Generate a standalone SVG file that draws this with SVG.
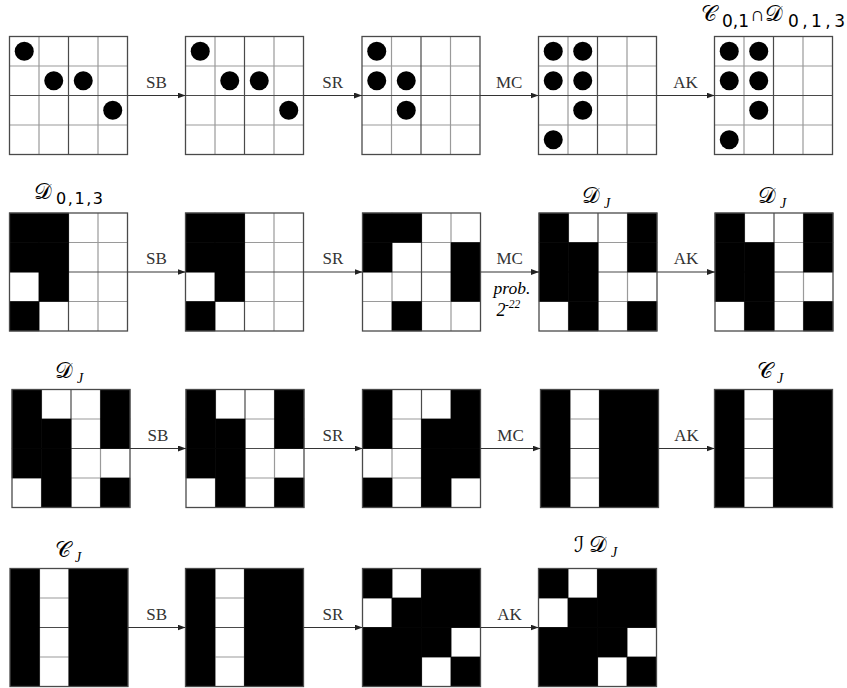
<svg xmlns="http://www.w3.org/2000/svg" xmlns:xlink="http://www.w3.org/1999/xlink" width="847" height="688" viewBox="0 0 847 688">
<style>
.bg{fill:#fff}
.ql{stroke:#9a9a9a;stroke-width:1.2;fill:none}
.ml{stroke:#4a4a4a;stroke-width:1.2;fill:none}
.bd{fill:none;stroke:#4a4a4a;stroke-width:1.3}
.ar{stroke:#333;stroke-width:1.1;fill:none;marker-end:url(#ah)}
.op{font-family:"Liberation Serif",serif;font-size:17px;fill:#333;text-anchor:middle}
.sc{font-family:"DejaVu Serif","DejaVu Sans","Noto Sans",serif;font-size:22px;fill:#000}
.sub{font-family:"DejaVu Sans","Liberation Sans",sans-serif;fill:#000}
.it{font-family:"Liberation Serif",serif;font-style:italic;fill:#000}
</style>
<defs>
<g id="base"><rect class="bg" width="118" height="118"/><path class="ql" d="M29.5 0V118M88.5 0V118M0 29.5H118M0 88.5H118"/><path class="ml" d="M59 0V118M0 59H118"/></g>
<rect id="c" x="-0.25" y="-0.25" width="30" height="30" fill="#000"/>
<circle id="d" cx="14.75" cy="14.75" r="9.5" fill="#000"/>
<rect id="bdr" class="bd" width="118" height="118"/>
<g id="cols"><rect x="0" y="0" width="29.75" height="118" fill="#000"/><rect x="58.75" y="0" width="59.25" height="118" fill="#000"/></g>
<marker id="ah" markerWidth="9" markerHeight="7" refX="8" refY="3" orient="auto" markerUnits="userSpaceOnUse"><path d="M0 0L8 3L0 6z" fill="#222"/></marker>
</defs>

<!-- Row 1 -->
<g id="r1g1" transform="translate(9.5,36.5)"><use href="#base"/><use href="#d" x="0" y="0"/><use href="#d" x="29.5" y="29.5"/><use href="#d" x="59" y="29.5"/><use href="#d" x="88.5" y="59"/><use href="#bdr"/></g>
<g id="r1g2" transform="translate(185.5,36.5)"><use href="#base"/><use href="#d" x="0" y="0"/><use href="#d" x="29.5" y="29.5"/><use href="#d" x="59" y="29.5"/><use href="#d" x="88.5" y="59"/><use href="#bdr"/></g>
<g id="r1g3" transform="translate(362,36.5)"><use href="#base"/><use href="#d" x="0" y="0"/><use href="#d" x="0" y="29.5"/><use href="#d" x="29.5" y="29.5"/><use href="#d" x="29.5" y="59"/><use href="#bdr"/></g>
<g id="r1g4" transform="translate(538.5,36.5)"><use href="#base"/><use href="#d" x="0" y="0"/><use href="#d" x="29.5" y="0"/><use href="#d" x="0" y="29.5"/><use href="#d" x="29.5" y="29.5"/><use href="#d" x="29.5" y="59"/><use href="#d" x="0" y="88.5"/><use href="#bdr"/></g>
<g id="r1g5" transform="translate(714.5,36.5)"><use href="#base"/><use href="#d" x="0" y="0"/><use href="#d" x="29.5" y="0"/><use href="#d" x="0" y="29.5"/><use href="#d" x="29.5" y="29.5"/><use href="#d" x="29.5" y="59"/><use href="#d" x="0" y="88.5"/><use href="#bdr"/></g>
<g id="lbl1">
<text class="sc" x="701" y="21" font-size="24">𝒞</text>
<text class="sub" x="722" y="26.5" font-size="17" textLength="27" lengthAdjust="spacing">0,1</text>
<text class="it" x="750" y="21" font-size="20" font-style="normal">∩</text>
<text class="sc" x="765" y="21" font-size="24">𝒟</text>
<text class="sub" x="788" y="26.5" font-size="17" textLength="57" lengthAdjust="spacing">0,1,3</text>
</g>

<!-- Row 2 -->
<g id="r2g1" transform="translate(9.5,213)"><use href="#base"/><use href="#c" x="0" y="0"/><use href="#c" x="29.5" y="0"/><use href="#c" x="0" y="29.5"/><use href="#c" x="29.5" y="29.5"/><use href="#c" x="29.5" y="59"/><use href="#c" x="0" y="88.5"/><use href="#bdr"/></g>
<g id="r2g2" transform="translate(185.5,213)"><use href="#base"/><use href="#c" x="0" y="0"/><use href="#c" x="29.5" y="0"/><use href="#c" x="0" y="29.5"/><use href="#c" x="29.5" y="29.5"/><use href="#c" x="29.5" y="59"/><use href="#c" x="0" y="88.5"/><use href="#bdr"/></g>
<g id="r2g3" transform="translate(362.5,213)"><use href="#base"/><use href="#c" x="0" y="0"/><use href="#c" x="29.5" y="0"/><use href="#c" x="0" y="29.5"/><use href="#c" x="88.5" y="29.5"/><use href="#c" x="88.5" y="59"/><use href="#c" x="29.5" y="88.5"/><use href="#bdr"/></g>
<g id="r2g4" transform="translate(539,213)"><use href="#base"/><use href="#c" x="0" y="0"/><use href="#c" x="88.5" y="0"/><use href="#c" x="0" y="29.5"/><use href="#c" x="29.5" y="29.5"/><use href="#c" x="88.5" y="29.5"/><use href="#c" x="0" y="59"/><use href="#c" x="29.5" y="59"/><use href="#c" x="29.5" y="88.5"/><use href="#c" x="88.5" y="88.5"/><use href="#bdr"/></g>
<g id="r2g5" transform="translate(715,213)"><use href="#base"/><use href="#c" x="0" y="0"/><use href="#c" x="88.5" y="0"/><use href="#c" x="0" y="29.5"/><use href="#c" x="29.5" y="29.5"/><use href="#c" x="88.5" y="29.5"/><use href="#c" x="0" y="59"/><use href="#c" x="29.5" y="59"/><use href="#c" x="29.5" y="88.5"/><use href="#c" x="88.5" y="88.5"/><use href="#bdr"/></g>
<g id="lbl2">
<text class="sc" x="34" y="198.5">𝒟</text>
<text class="sub" x="56" y="204" font-size="16" textLength="47" lengthAdjust="spacing">0,1,3</text>
<text class="sc" x="582" y="203">𝒟</text>
<text class="it" x="604" y="208" font-size="14">J</text>
<text class="sc" x="758" y="203">𝒟</text>
<text class="it" x="780" y="208" font-size="14">J</text>
</g>

<!-- Row 3 -->
<g id="r3g1" transform="translate(12,389.5)"><use href="#base"/><use href="#c" x="0" y="0"/><use href="#c" x="88.5" y="0"/><use href="#c" x="0" y="29.5"/><use href="#c" x="29.5" y="29.5"/><use href="#c" x="88.5" y="29.5"/><use href="#c" x="0" y="59"/><use href="#c" x="29.5" y="59"/><use href="#c" x="29.5" y="88.5"/><use href="#c" x="88.5" y="88.5"/><use href="#bdr"/></g>
<g id="r3g2" transform="translate(186,389.5)"><use href="#base"/><use href="#c" x="0" y="0"/><use href="#c" x="88.5" y="0"/><use href="#c" x="0" y="29.5"/><use href="#c" x="29.5" y="29.5"/><use href="#c" x="88.5" y="29.5"/><use href="#c" x="0" y="59"/><use href="#c" x="29.5" y="59"/><use href="#c" x="29.5" y="88.5"/><use href="#c" x="88.5" y="88.5"/><use href="#bdr"/></g>
<g id="r3g3" transform="translate(362.5,389.5)"><use href="#base"/><use href="#c" x="0" y="0"/><use href="#c" x="88.5" y="0"/><use href="#c" x="0" y="29.5"/><use href="#c" x="59" y="29.5"/><use href="#c" x="88.5" y="29.5"/><use href="#c" x="59" y="59"/><use href="#c" x="88.5" y="59"/><use href="#c" x="0" y="88.5"/><use href="#c" x="59" y="88.5"/><use href="#bdr"/></g>
<g id="r3g4" transform="translate(540.5,389.5)"><use href="#base"/><use href="#cols"/><use href="#bdr"/></g>
<g id="r3g5" transform="translate(714.5,389.5)"><use href="#base"/><use href="#cols"/><use href="#bdr"/></g>
<g id="lbl3">
<text class="sc" x="55" y="378">𝒟</text>
<text class="it" x="77" y="383" font-size="14">J</text>
<text class="sc" x="757" y="378">𝒞</text>
<text class="it" x="777" y="383" font-size="14">J</text>
</g>

<!-- Row 4 -->
<g id="r4g1" transform="translate(10,568.5)"><use href="#base"/><use href="#cols"/><use href="#bdr"/></g>
<g id="r4g2" transform="translate(185.5,568.5)"><use href="#base"/><use href="#cols"/><use href="#bdr"/></g>
<g id="r4g3" transform="translate(362.5,568.5)"><use href="#base"/><use href="#c" x="0" y="0"/><use href="#c" x="59" y="0"/><use href="#c" x="88.5" y="0"/><use href="#c" x="29.5" y="29.5"/><use href="#c" x="59" y="29.5"/><use href="#c" x="88.5" y="29.5"/><use href="#c" x="0" y="59"/><use href="#c" x="29.5" y="59"/><use href="#c" x="59" y="59"/><use href="#c" x="0" y="88.5"/><use href="#c" x="29.5" y="88.5"/><use href="#c" x="88.5" y="88.5"/><use href="#bdr"/></g>
<g id="r4g4" transform="translate(538.5,568.5)"><use href="#base"/><use href="#c" x="0" y="0"/><use href="#c" x="59" y="0"/><use href="#c" x="88.5" y="0"/><use href="#c" x="29.5" y="29.5"/><use href="#c" x="59" y="29.5"/><use href="#c" x="88.5" y="29.5"/><use href="#c" x="0" y="59"/><use href="#c" x="29.5" y="59"/><use href="#c" x="59" y="59"/><use href="#c" x="0" y="88.5"/><use href="#c" x="29.5" y="88.5"/><use href="#c" x="88.5" y="88.5"/><use href="#bdr"/></g>
<g id="lbl4">
<text class="sc" x="55" y="557">𝒞</text>
<text class="it" x="75" y="562" font-size="14">J</text>
<text class="sc" x="574" y="552" font-size="26">ℐ</text>
<text class="sc" x="589" y="552">𝒟</text>
<text class="it" x="611" y="557" font-size="14">J</text>
</g>

<!-- Connectors -->
<g id="connectors">
<line class="ar" x1="127.5" y1="95.5" x2="185.5" y2="95.5"/>
<line class="ar" x1="303.5" y1="95.5" x2="362" y2="95.5"/>
<line class="ar" x1="480" y1="95.5" x2="538.5" y2="95.5"/>
<line class="ar" x1="656.5" y1="95.5" x2="714.5" y2="95.5"/>
<line class="ar" x1="127.5" y1="272" x2="185.5" y2="272"/>
<line class="ar" x1="303.5" y1="272" x2="362.5" y2="272"/>
<line class="ar" x1="480.5" y1="272" x2="539" y2="272"/>
<line class="ar" x1="657" y1="272" x2="715" y2="272"/>
<line class="ar" x1="130" y1="448.5" x2="186" y2="448.5"/>
<line class="ar" x1="304" y1="448.5" x2="362.5" y2="448.5"/>
<line class="ar" x1="480.5" y1="448.5" x2="540.5" y2="448.5"/>
<line class="ar" x1="658.5" y1="448.5" x2="714.5" y2="448.5"/>
<line class="ar" x1="128" y1="627.5" x2="185.5" y2="627.5"/>
<line class="ar" x1="303.5" y1="627.5" x2="362.5" y2="627.5"/>
<line class="ar" x1="480.5" y1="627.5" x2="538.5" y2="627.5"/>
<text class="op" x="156.5" y="88">SB</text>
<text class="op" x="332.7" y="88">SR</text>
<text class="op" x="509.2" y="88">MC</text>
<text class="op" x="685.5" y="88">AK</text>
<text class="op" x="156.5" y="264">SB</text>
<text class="op" x="333" y="264">SR</text>
<text class="op" x="509.7" y="264">MC</text>
<text class="op" x="686" y="264">AK</text>
<text class="it" x="512" y="293.5" font-size="17.5" text-anchor="middle">prob.</text>
<text class="it" x="496.5" y="316" font-size="18">2</text>
<text class="it" x="505" y="307.5" font-size="11.5">-22</text>
<text class="op" x="158" y="441">SB</text>
<text class="op" x="333" y="441">SR</text>
<text class="op" x="510.5" y="441">MC</text>
<text class="op" x="686.5" y="441">AK</text>
<text class="op" x="156.7" y="620">SB</text>
<text class="op" x="333" y="620">SR</text>
<text class="op" x="509.5" y="620">AK</text>
</g>
</svg>
